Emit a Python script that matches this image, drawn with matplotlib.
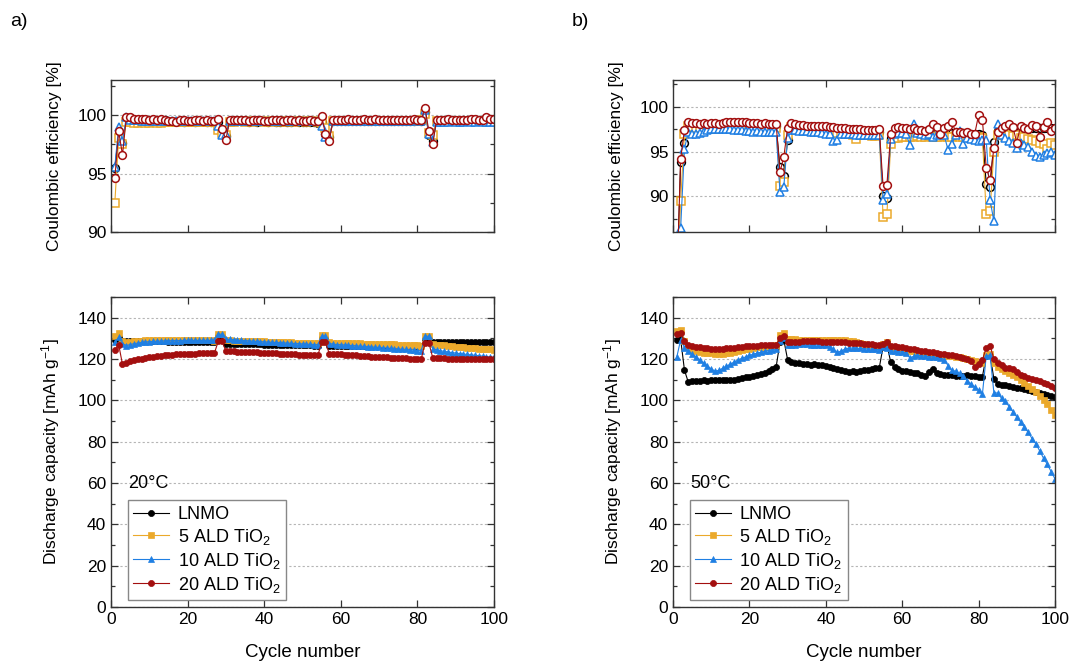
"""Coulombic efficiency and discharge capacity vs cycle number, 20 °C and 50 °C.

Four cells: bare LNMO and LNMO coated with 5, 10 and 20 ALD cycles of TiO2.
Top row is CE, bottom row is discharge capacity; a) 20 °C, b) 50 °C.
Values were read off the published figure by eye.

Usage
-----
    python3 plot.py            # writes out.png
"""
from __future__ import annotations

import matplotlib
matplotlib.use("Agg")
import matplotlib.pyplot as plt
from matplotlib.ticker import MultipleLocator
import numpy as np

cycles = np.arange(1, 101)

labels = ["LNMO", r"5 ALD TiO$_\mathregular{2}$", r"10 ALD TiO$_\mathregular{2}$",
          r"20 ALD TiO$_\mathregular{2}$"]
colors = ["#000000", "#EBA92B", "#1F7FE3", "#A30F0F"]
markers = ["o", "s", "^", "o"]

# ---- Coulombic efficiency [%], 20 °C
ce20_lnmo = [
    95.5, 98.4, 97.6, 99.7, 99.7, 99.6, 99.6, 99.6, 99.6, 99.6,
    99.6, 99.5, 99.5, 99.6, 99.5, 99.5, 99.5, 99.5, 99.4, 99.5,
    99.5, 99.4, 99.5, 99.5, 99.4, 99.4, 99.4, 99.4, 98.5, 98.2,
    99.5, 99.5, 99.5, 99.5, 99.5, 99.4, 99.5, 99.4, 99.5, 99.5,
    99.4, 99.5, 99.4, 99.4, 99.5, 99.4, 99.4, 99.5, 99.4, 99.4,
    99.4, 99.4, 99.4, 99.3, 99.4, 98.4, 98.1, 99.5, 99.5, 99.5,
    99.5, 99.5, 99.5, 99.5, 99.5, 99.5, 99.5, 99.5, 99.5, 99.5,
    99.5, 99.5, 99.5, 99.5, 99.5, 99.5, 99.5, 99.5, 99.5, 99.6,
    99.5, 100.3, 98.3, 97.8, 99.5, 99.5, 99.6, 99.5, 99.6, 99.5,
    99.5, 99.6, 99.6, 99.5, 99.6, 99.6, 99.6, 99.6, 99.6, 99.6,
]
ce20_ald5 = [
    92.5, 98.0, 97.5, 99.4, 99.4, 99.3, 99.3, 99.4, 99.3, 99.3,
    99.4, 99.3, 99.3, 99.4, 99.4, 99.4, 99.4, 99.4, 99.4, 99.4,
    99.4, 99.4, 99.4, 99.4, 99.4, 99.4, 99.4, 98.7, 98.5, 98.3,
    99.4, 99.4, 99.5, 99.5, 99.4, 99.5, 99.4, 99.5, 99.5, 99.4,
    99.5, 99.4, 99.5, 99.4, 99.5, 99.4, 99.5, 99.4, 99.5, 99.5,
    99.4, 99.5, 99.5, 99.4, 99.3, 98.9, 98.2, 99.5, 99.5, 99.5,
    99.5, 99.5, 99.5, 99.5, 99.5, 99.5, 99.5, 99.5, 99.5, 99.5,
    99.5, 99.5, 99.5, 99.5, 99.5, 99.5, 99.5, 99.5, 99.5, 99.5,
    99.6, 100.1, 98.5, 98.3, 99.5, 99.5, 99.5, 99.5, 99.5, 99.5,
    99.5, 99.5, 99.5, 99.5, 99.5, 99.5, 99.5, 99.5, 99.5, 99.5,
]
ce20_ald10 = [
    95.6, 99.0, 97.8, 99.8, 99.6, 99.6, 99.6, 99.5, 99.5, 99.5,
    99.5, 99.5, 99.5, 99.5, 99.5, 99.5, 99.5, 99.5, 99.5, 99.5,
    99.5, 99.5, 99.5, 99.5, 99.5, 99.5, 99.5, 99.1, 98.3, 98.4,
    99.5, 99.5, 99.5, 99.5, 99.5, 99.5, 99.5, 99.5, 99.5, 99.5,
    99.5, 99.5, 99.5, 99.5, 99.5, 99.5, 99.5, 99.5, 99.5, 99.5,
    99.5, 99.5, 99.5, 99.5, 99.1, 98.1, 98.1, 99.5, 99.5, 99.5,
    99.5, 99.5, 99.5, 99.5, 99.5, 99.5, 99.5, 99.5, 99.5, 99.5,
    99.5, 99.5, 99.5, 99.5, 99.5, 99.5, 99.5, 99.5, 99.5, 99.6,
    99.5, 100.4, 98.4, 97.7, 99.4, 99.4, 99.4, 99.4, 99.5, 99.4,
    99.4, 99.4, 99.5, 99.4, 99.4, 99.5, 99.4, 99.4, 99.4, 99.4,
]
ce20_ald20 = [
    94.6, 98.6, 96.6, 99.8, 99.8, 99.7, 99.7, 99.7, 99.7, 99.6,
    99.7, 99.6, 99.7, 99.6, 99.5, 99.5, 99.4, 99.6, 99.6, 99.5,
    99.5, 99.6, 99.6, 99.5, 99.6, 99.5, 99.5, 99.7, 98.8, 97.9,
    99.6, 99.6, 99.6, 99.6, 99.6, 99.5, 99.6, 99.6, 99.6, 99.5,
    99.5, 99.6, 99.6, 99.6, 99.5, 99.6, 99.6, 99.5, 99.6, 99.5,
    99.5, 99.6, 99.5, 99.5, 99.9, 98.4, 97.8, 99.6, 99.6, 99.6,
    99.6, 99.7, 99.6, 99.6, 99.6, 99.7, 99.6, 99.6, 99.7, 99.6,
    99.6, 99.6, 99.6, 99.6, 99.6, 99.6, 99.6, 99.6, 99.7, 99.6,
    99.6, 100.6, 98.6, 97.5, 99.6, 99.6, 99.6, 99.7, 99.6, 99.6,
    99.6, 99.6, 99.6, 99.7, 99.7, 99.6, 99.6, 99.8, 99.7, 99.7,
]

# ---- Coulombic efficiency [%], 50 °C (cycle 1 lies below the axis range)
ce50_lnmo = [
    80.0, 93.8, 96.0, 97.6, 97.8, 97.9, 97.9, 97.9, 98.0, 98.0,
    98.0, 98.0, 98.0, 98.0, 98.0, 98.0, 98.0, 98.0, 97.9, 97.9,
    97.9, 97.9, 97.9, 97.9, 97.8, 97.8, 97.8, 93.3, 92.3, 96.3,
    97.9, 97.9, 97.8, 97.8, 97.7, 97.7, 97.6, 97.6, 97.6, 97.5,
    97.5, 97.4, 97.4, 97.3, 97.3, 97.3, 97.2, 97.2, 97.2, 97.2,
    97.2, 97.2, 97.2, 97.2, 90.0, 89.8, 96.5, 97.2, 97.3, 97.3,
    97.3, 97.2, 97.3, 97.2, 97.3, 97.2, 97.2, 97.3, 97.2, 97.2,
    97.2, 97.2, 97.1, 97.2, 97.1, 97.1, 97.1, 97.0, 97.0, 97.0,
    96.9, 91.4, 91.0, 96.1, 97.3, 97.4, 97.4, 97.5, 97.5, 97.5,
    97.5, 97.5, 97.5, 97.6, 97.6, 97.6, 97.6, 97.6, 97.6, 97.6,
]
ce50_ald5 = [
    78.0, 89.5, 97.0, 97.9, 97.7, 97.6, 97.6, 97.6, 97.6, 97.5,
    97.5, 97.6, 97.6, 97.6, 97.7, 97.7, 97.7, 97.7, 97.7, 97.7,
    97.7, 97.7, 97.6, 97.6, 97.6, 97.6, 97.6, 91.1, 91.6, 96.8,
    97.7, 97.6, 97.5, 97.5, 97.5, 97.4, 97.4, 97.4, 97.3, 97.3,
    97.2, 97.2, 97.1, 97.1, 97.0, 97.0, 96.9, 96.4, 96.8, 96.8,
    96.8, 96.7, 96.7, 96.8, 87.7, 88.0, 95.8, 96.5, 96.5, 96.6,
    96.6, 96.6, 96.6, 96.7, 96.6, 96.6, 96.7, 96.6, 96.6, 96.6,
    96.7, 96.6, 96.6, 96.7, 96.6, 96.6, 96.6, 96.5, 96.6, 96.6,
    96.5, 88.0, 88.4, 95.0, 96.8, 96.8, 96.7, 96.9, 96.7, 96.8,
    96.5, 96.6, 96.4, 96.3, 96.2, 96.0, 95.8, 95.3, 96.0, 95.7,
]
ce50_ald10 = [
    75.0, 86.4, 95.3, 97.2, 97.0, 97.0, 97.1, 97.2, 97.4, 97.5,
    97.5, 97.5, 97.5, 97.5, 97.5, 97.4, 97.4, 97.4, 97.3, 97.3,
    97.2, 97.3, 97.2, 97.2, 97.2, 97.2, 97.2, 90.5, 91.0, 96.5,
    97.4, 97.4, 97.3, 97.3, 97.3, 97.2, 97.2, 97.2, 97.1, 97.0,
    97.0, 96.2, 96.3, 97.0, 97.0, 97.0, 97.0, 96.9, 96.9, 96.9,
    96.9, 96.9, 96.9, 96.9, 89.6, 90.2, 96.4, 97.0, 97.1, 97.1,
    97.0, 95.7, 98.1, 97.1, 97.0, 96.8, 97.0, 96.6, 96.9, 97.0,
    96.8, 95.2, 95.8, 96.9, 97.3, 95.8, 96.5, 96.4, 96.3, 96.2,
    96.3, 96.3, 89.6, 87.2, 98.1, 96.8, 96.5, 96.2, 95.9, 95.4,
    96.0, 95.7, 95.5, 95.0, 94.5, 94.4, 94.6, 94.8, 95.0, 94.6,
]
ce50_ald20 = [
    80.0, 94.2, 97.4, 98.3, 98.2, 98.2, 98.1, 98.2, 98.1, 98.2,
    98.2, 98.1, 98.2, 98.3, 98.3, 98.3, 98.3, 98.3, 98.3, 98.2,
    98.2, 98.2, 98.1, 98.2, 98.1, 98.1, 98.1, 92.7, 94.4, 97.6,
    98.2, 98.1, 98.0, 98.0, 97.9, 97.9, 97.9, 97.9, 97.8, 97.8,
    97.7, 97.7, 97.6, 97.6, 97.6, 97.5, 97.5, 97.5, 97.5, 97.4,
    97.4, 97.4, 97.4, 97.5, 91.1, 91.3, 97.0, 97.6, 97.7, 97.6,
    97.6, 97.5, 97.6, 97.4, 97.4, 97.3, 97.5, 98.1, 97.7, 97.0,
    97.6, 97.8, 98.3, 97.2, 97.2, 97.1, 97.2, 97.0, 97.0, 99.1,
    98.5, 93.2, 91.8, 95.4, 97.2, 97.6, 97.9, 98.1, 97.7, 96.0,
    97.9, 97.6, 97.5, 98.0, 97.8, 96.6, 97.7, 98.3, 97.3, 97.6,
]

# ---- Discharge capacity [mAh/g], 20 °C
cap20_lnmo = [
    129.0, 130.5, 128.5, 128.5, 128.5, 128.5, 128.5, 128.5, 128.5, 128.5,
    128.5, 128.5, 128.5, 128.5, 128.4, 128.4, 128.3, 128.3, 128.2, 128.2,
    128.2, 128.1, 128.1, 128.0, 128.0, 128.0, 128.0, 131.0, 131.0, 127.5,
    127.5, 127.4, 127.4, 127.3, 127.3, 127.2, 127.2, 127.1, 127.1, 127.0,
    127.0, 127.0, 126.9, 126.9, 126.8, 126.8, 126.8, 126.7, 126.7, 126.6,
    126.6, 126.6, 126.5, 126.5, 130.0, 130.0, 126.5, 126.5, 126.5, 126.5,
    126.4, 126.4, 126.4, 126.4, 126.3, 126.3, 126.3, 126.3, 126.3, 126.2,
    126.2, 126.2, 126.2, 126.2, 126.2, 126.1, 126.1, 126.1, 126.1, 126.1,
    126.1, 129.5, 129.5, 128.0, 128.0, 128.0, 128.0, 128.0, 128.0, 128.0,
    128.0, 128.0, 128.0, 128.0, 128.0, 128.0, 128.0, 128.0, 128.0, 128.0,
]
cap20_ald5 = [
    131.0, 132.5, 128.5, 128.0, 128.3, 128.5, 128.7, 128.8, 129.0, 129.0,
    129.1, 129.2, 129.2, 129.3, 129.3, 129.3, 129.3, 129.3, 129.3, 129.2,
    129.2, 129.2, 129.1, 129.1, 129.0, 129.0, 128.9, 132.0, 132.0, 129.0,
    129.0, 128.9, 128.9, 128.8, 128.8, 128.7, 128.7, 128.6, 128.5, 128.5,
    128.4, 128.3, 128.3, 128.2, 128.1, 128.0, 128.0, 127.9, 127.8, 127.8,
    127.7, 127.7, 127.6, 127.6, 131.5, 131.5, 128.0, 127.9, 127.9, 127.8,
    127.8, 127.7, 127.7, 127.6, 127.6, 127.5, 127.5, 127.4, 127.4, 127.3,
    127.3, 127.2, 127.2, 127.1, 127.0, 127.0, 126.9, 126.8, 126.7, 126.6,
    126.5, 131.0, 131.0, 127.3, 127.0, 126.8, 126.6, 126.4, 126.2, 126.0,
    125.8, 125.6, 125.5, 125.3, 125.2, 125.0, 124.9, 124.8, 124.6, 124.5,
]
cap20_ald10 = [
    128.0, 130.5, 127.5, 126.5, 127.0, 127.4, 127.7, 128.0, 128.2, 128.4,
    128.5, 128.6, 128.7, 128.8, 128.8, 128.9, 128.9, 128.9, 129.0, 129.0,
    129.0, 129.0, 129.0, 129.0, 129.0, 129.0, 129.0, 132.0, 132.0, 129.5,
    129.5, 129.3, 129.1, 129.0, 128.9, 128.8, 128.6, 128.5, 128.4, 128.3,
    128.2, 128.1, 128.0, 127.9, 127.8, 127.7, 127.6, 127.5, 127.4, 127.3,
    127.2, 127.1, 127.0, 126.9, 131.0, 131.0, 127.5, 127.2, 127.0, 126.9,
    126.8, 126.6, 126.5, 126.4, 126.2, 126.1, 126.0, 125.8, 125.7, 125.6,
    125.4, 125.3, 125.1, 125.0, 124.8, 124.7, 124.6, 124.4, 124.3, 124.1,
    124.0, 131.0, 131.0, 125.0, 124.5, 124.0, 123.7, 123.4, 123.1, 122.9,
    122.6, 122.4, 122.2, 122.0, 121.8, 121.6, 121.4, 121.2, 121.0, 120.8,
]
cap20_ald20 = [
    124.2, 127.0, 117.4, 118.2, 118.8, 119.3, 119.8, 120.2, 120.6, 120.9,
    121.2, 121.4, 121.6, 121.8, 122.0, 122.1, 122.2, 122.3, 122.4, 122.5,
    122.6, 122.6, 122.7, 122.7, 122.8, 122.8, 122.9, 128.5, 128.5, 123.8,
    123.8, 123.7, 123.6, 123.5, 123.5, 123.4, 123.3, 123.2, 123.1, 123.0,
    122.9, 122.8, 122.7, 122.6, 122.5, 122.4, 122.3, 122.2, 122.1, 122.0,
    121.9, 121.8, 121.7, 121.7, 128.0, 128.0, 122.6, 122.5, 122.3, 122.2,
    122.1, 122.0, 121.9, 121.7, 121.6, 121.5, 121.3, 121.2, 121.1, 121.0,
    120.9, 120.8, 120.7, 120.6, 120.5, 120.4, 120.3, 120.2, 120.1, 120.0,
    120.0, 127.8, 127.8, 120.6, 120.5, 120.4, 120.3, 120.2, 120.2, 120.1,
    120.1, 120.0, 120.0, 119.9, 119.9, 119.9, 119.8, 119.8, 119.8, 119.8,
]

# ---- Discharge capacity [mAh/g], 50 °C
cap50_lnmo = [
    129.0, 129.6, 114.6, 108.8, 109.2, 109.4, 109.5, 109.6, 109.5, 109.6,
    109.8, 109.7, 109.9, 110.0, 110.0, 109.8, 110.2, 110.8, 111.2, 111.5,
    111.8, 112.3, 112.8, 113.4, 114.2, 115.0, 116.2, 128.0, 129.3, 119.7,
    118.6, 118.3, 118.0, 117.8, 117.6, 117.3, 117.6, 117.2, 117.0, 116.8,
    116.2, 115.5, 115.0, 114.6, 114.0, 113.8, 114.3, 113.6, 114.2, 114.8,
    114.5, 115.2, 115.6, 115.8, 126.0, 127.0, 118.4, 116.0, 115.0, 114.4,
    114.0, 113.6, 113.4, 113.2, 112.4, 112.0, 113.8, 115.0, 113.2, 112.8,
    112.5, 112.3, 112.2, 112.0, 111.8, 112.0, 112.3, 111.7, 111.6, 111.5,
    111.5, 121.5, 122.0, 110.4, 108.0, 107.5, 107.2, 107.0, 106.6, 106.2,
    105.8, 105.5, 105.0, 104.6, 104.2, 103.7, 103.2, 102.7, 102.2, 101.7,
]
cap50_ald5 = [
    133.5, 134.0, 128.5, 126.0, 124.8, 124.0, 123.5, 123.0, 122.8, 122.7,
    122.5, 122.5, 122.6, 122.8, 123.0, 123.4, 123.8, 124.2, 124.6, 125.0,
    125.3, 125.6, 125.8, 126.0, 126.2, 126.4, 126.6, 131.5, 132.5, 129.6,
    129.5, 129.5, 129.4, 129.4, 129.4, 129.3, 129.3, 129.3, 129.2, 129.2,
    129.2, 129.1, 129.1, 129.0, 129.0, 128.8, 128.5, 128.0, 127.6, 127.2,
    126.9, 126.6, 126.4, 126.2, 127.5, 128.0, 125.5, 125.2, 124.9, 124.6,
    124.3, 124.0, 123.8, 123.5, 123.2, 123.0, 122.7, 122.4, 122.2, 122.0,
    121.8, 121.5, 121.3, 121.1, 120.8, 120.5, 120.1, 119.6, 119.1, 118.6,
    118.0, 122.0, 122.3, 118.0, 116.0, 115.0, 114.0, 113.0, 112.5, 111.5,
    110.0, 108.5, 107.0, 105.5, 104.0, 102.0, 100.0, 98.0, 95.5, 93.0,
]
cap50_ald10 = [
    121.0, 129.3, 125.5, 124.0, 122.5, 121.0, 119.5, 118.0, 116.5, 115.2,
    114.1, 114.5, 115.5, 116.5, 117.5, 118.5, 119.5, 120.3, 121.0, 121.7,
    122.3, 122.8, 123.3, 123.7, 124.1, 124.5, 124.9, 128.5, 130.0, 127.0,
    127.0, 127.0, 127.1, 127.1, 127.1, 127.0, 127.0, 126.9, 126.8, 126.6,
    126.0, 124.6, 123.2, 123.8, 124.8, 125.3, 125.3, 125.2, 125.1, 125.0,
    124.8, 124.7, 124.6, 124.5, 126.0, 125.5, 124.0, 123.8, 123.6, 123.4,
    123.0, 120.5, 121.3, 121.7, 121.6, 121.4, 121.2, 121.0, 120.8, 120.5,
    119.7, 116.8, 114.5, 114.1, 113.0, 111.7, 109.5, 107.9, 106.5, 105.0,
    103.0, 121.5, 122.0, 103.7, 103.5, 101.0, 99.5, 97.0, 94.5, 92.0,
    89.5, 87.0, 84.5, 81.5, 79.0, 75.5, 72.0, 69.0, 65.5, 62.0,
]
cap50_ald20 = [
    132.0, 132.5, 128.5, 127.0, 126.5, 126.0, 125.7, 125.4, 125.2, 125.0,
    124.9, 124.9, 125.0, 125.1, 125.3, 125.5, 125.7, 125.9, 126.1, 126.3,
    126.4, 126.5, 126.6, 126.7, 126.8, 126.9, 127.0, 130.0, 131.0, 128.0,
    128.3, 128.4, 128.4, 128.5, 128.5, 128.5, 128.5, 128.5, 128.4, 128.4,
    128.3, 128.3, 128.2, 128.1, 128.0, 127.9, 127.8, 127.7, 127.6, 127.5,
    127.3, 127.1, 126.9, 126.7, 127.5, 128.0, 126.5, 126.2, 125.9, 125.6,
    125.3, 125.0, 124.7, 124.4, 124.1, 123.8, 123.5, 123.2, 122.9, 122.6,
    122.3, 122.0, 121.7, 121.3, 121.0, 120.5, 119.8, 119.0, 116.0, 117.5,
    119.5, 125.5, 126.5, 120.0, 118.0, 117.0, 115.8, 115.5, 115.2, 113.5,
    112.5, 112.0, 111.0, 110.5, 110.0, 109.5, 108.5, 108.0, 107.0, 106.0,
]

FONT = ["Liberation Sans", "DejaVu Sans"]


def style_axes(ax, ylim, ymajor, yminor):
    ax.set_xlim(0, 100)
    ax.set_ylim(*ylim)
    ax.xaxis.set_major_locator(MultipleLocator(20))
    ax.yaxis.set_major_locator(MultipleLocator(ymajor))
    ax.yaxis.set_minor_locator(MultipleLocator(yminor))
    ax.tick_params(which="both", direction="in", top=True, right=True,
                   labelsize=12.5, color="#333333", width=0.9)
    ax.tick_params(which="major", length=5)
    ax.tick_params(which="minor", length=3)
    ax.grid(True, axis="y", which="major", color="#b5b5b5", ls=(0, (2, 2)), lw=0.8)
    ax.set_axisbelow(True)
    for sp in ax.spines.values():
        sp.set_color("#333333")
        sp.set_linewidth(1.0)


def plot_ce(ax, series):
    for y, c, m in zip(series, colors, markers):
        ax.plot(cycles, y, color=c, lw=0.8, marker=m, ms=5.6, mfc="white",
                mec=c, mew=1.1)


def plot_cap(ax, series):
    for y, c, m, lab in zip(series, colors, markers, labels):
        ax.plot(cycles, y, color=c, lw=0.8, marker=m, ms=4.4, mfc=c, mec=c,
                mew=0.5, label=lab)


def main() -> int:
    plt.rcParams["font.family"] = FONT
    plt.rcParams["mathtext.fontset"] = "custom"
    plt.rcParams["mathtext.rm"] = "Liberation Sans"
    plt.rcParams["mathtext.it"] = "Liberation Sans:italic"

    fig = plt.figure(figsize=(10.72, 6.62), dpi=100)
    W, H = 1072, 662

    def box(x0, x1, y0, y1):
        return [x0 / W, 1 - y1 / H, (x1 - x0) / W, (y1 - y0) / H]

    ax_ce20 = fig.add_axes(box(111, 494, 80, 232))
    ax_ce50 = fig.add_axes(box(673, 1055, 80, 232))
    ax_c20 = fig.add_axes(box(111, 494, 297, 607))
    ax_c50 = fig.add_axes(box(673, 1055, 297, 607))

    plot_ce(ax_ce20, [ce20_lnmo, ce20_ald5, ce20_ald10, ce20_ald20])
    plot_ce(ax_ce50, [ce50_lnmo, ce50_ald5, ce50_ald10, ce50_ald20])
    plot_cap(ax_c20, [cap20_lnmo, cap20_ald5, cap20_ald10, cap20_ald20])
    plot_cap(ax_c50, [cap50_lnmo, cap50_ald5, cap50_ald10, cap50_ald20])

    style_axes(ax_ce20, (90, 103), 5, 2.5)
    style_axes(ax_ce50, (86, 103), 5, 2.5)
    style_axes(ax_c20, (0, 150), 20, 10)
    style_axes(ax_c50, (0, 150), 20, 10)

    for ax in (ax_ce20, ax_ce50):
        ax.tick_params(labelbottom=False)
        ax.set_ylabel("Coulombic efficiency [%]", fontsize=12.5, labelpad=11)
    for ax, temp in ((ax_c20, "20°C"), (ax_c50, "50°C")):
        ax.set_xlabel("Cycle number", fontsize=13.5, labelpad=12)
        ax.set_ylabel("Discharge capacity [mAh g$^{-1}$]", fontsize=12.5,
                      labelpad=11)
        ax.text(0.045, 0.40, temp, transform=ax.transAxes, fontsize=13,
                va="center", ha="left")
        leg = ax.legend(loc="lower left", bbox_to_anchor=(0.044, 0.022),
                        borderaxespad=0, fontsize=13, fancybox=False,
                        edgecolor="#888888", framealpha=1, handlelength=2.0,
                        handletextpad=0.45, labelspacing=0.22, borderpad=0.3)
        leg.get_frame().set_linewidth(1.0)

    fig.align_ylabels([ax_ce20, ax_c20])
    fig.align_ylabels([ax_ce50, ax_c50])

    fig.text(10 / W, 1 - 21 / H, "a)", fontsize=14, va="center")
    fig.text(572 / W, 1 - 21 / H, "b)", fontsize=14, va="center")

    fig.savefig("out.png", dpi=100)
    return 0


if __name__ == "__main__":
    raise SystemExit(main())
